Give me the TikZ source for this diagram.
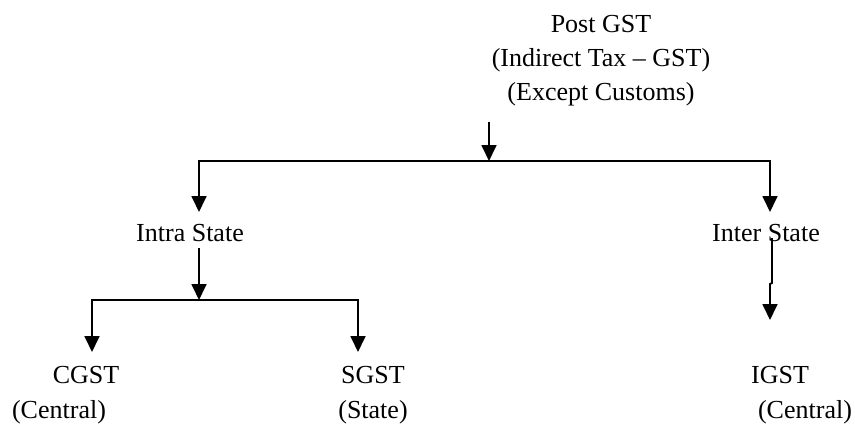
\documentclass[tikz,border=0pt]{standalone}
\usepackage{fontspec}
\setmainfont{Liberation Serif}
\usetikzlibrary{arrows.meta}

\tikzset{
    lbl/.style={inner sep=0pt,anchor=base,font=\fontsize{26}{34}\selectfont},
    arrhead/.tip={Triangle[length=16pt,width=15pt]},
}

\begin{document}
\begin{tikzpicture}[x=1pt,y=-1pt,line width=1.8pt]

    % Hintergrund / Rahmen
    \useasboundingbox (0,0) rectangle (855,428);
    \fill[white] (0,0) rectangle (855,428);

    % Texte (base = letzte Zeile)
    \node[lbl,align=center] (post) at (601,100) {Post GST\\(Indirect Tax – GST)\\(Except Customs)};
    \node[lbl] (intra) at (190,241) {Intra State};
    \node[lbl] (inter) at (766,241) {Inter State};
    \node[lbl] (cgst) at (86,383) {CGST};
    \node[lbl] (cgstsub) at (59,418) {(Central)};
    \node[lbl] (sgst) at (373,383) {SGST};
    \node[lbl] (sgstsub) at (373,418) {(State)};
    \node[lbl] (igst) at (780,383) {IGST};
    \node[lbl] (igstsub) at (805,418) {(Central)};

    % Verbindungspunkte
    \coordinate (posttail) at (489,122);
    \coordinate (barmid) at (489,161);
    \coordinate (barL) at (199,161);
    \coordinate (barR) at (770,161);
    \coordinate (intratip) at (199,212);
    \coordinate (intertip) at (770,212);
    \coordinate (intratail) at (199,248);
    \coordinate (subbarmid) at (199,300);
    \coordinate (subbarL) at (92,300);
    \coordinate (subbarR) at (358,300);
    \coordinate (cgsttip) at (92,352);
    \coordinate (sgsttip) at (358,352);
    \coordinate (intertail) at (772,238);
    \coordinate (igsttip) at (770,320);

    % Pfeile
    \draw[-arrhead] (posttail) -- (barmid);
    \draw[arrhead-arrhead] (intratip) -- (barL) -- (barR) -- (intertip);
    \draw[-arrhead] (intratail) -- (subbarmid);
    \draw[arrhead-arrhead] (cgsttip) -- (subbarL) -- (subbarR) -- (sgsttip);
    \draw[-arrhead] (intertail) -- (772,283) -- (770,284) -- (igsttip);

\end{tikzpicture}
\end{document}
